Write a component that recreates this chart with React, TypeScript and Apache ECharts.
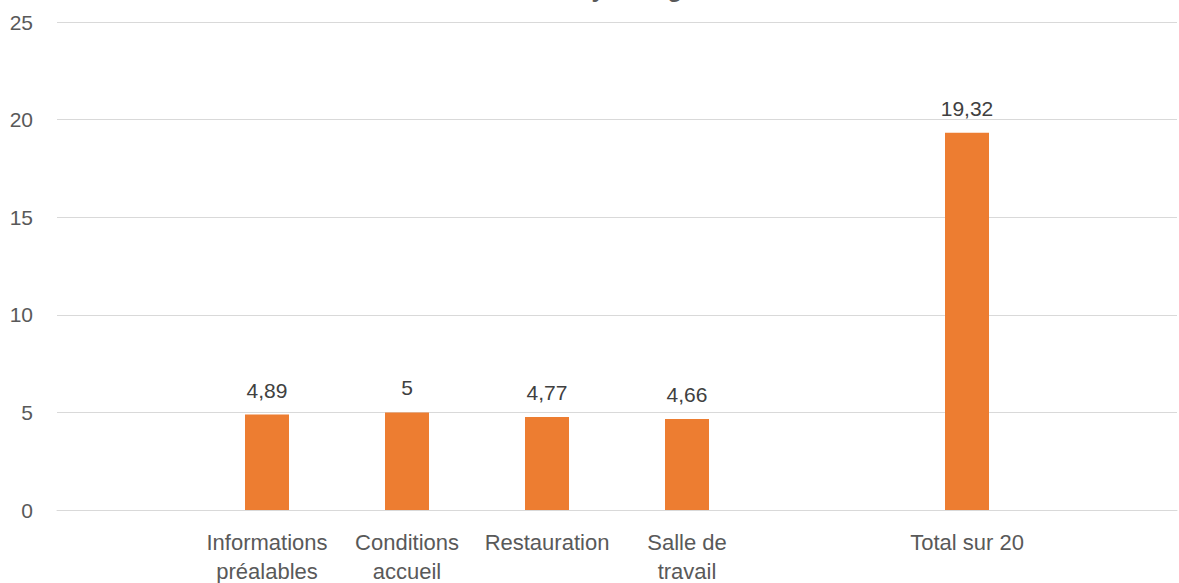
import React, { useEffect, useRef } from "react";
import * as echarts from "echarts";

const categories: string[] = [
  "",
  "Informations\npréalables",
  "Conditions\naccueil",
  "Restauration",
  "Salle de\ntravail",
  "",
  "Total sur 20",
  "",
];
const values: (number | null)[] = [null, 4.89, 5, 4.77, 4.66, null, 19.32, null];
const yMin = 0;
const yMax = 25;
const yInterval = 5;
const titleText = "Évaluation moyenne globale";

const FONT = "'Liberation Sans', Arial, sans-serif";

export default function App() {
  const ref = useRef<HTMLDivElement>(null);
  useEffect(() => {
    if (!ref.current) return;
    const chart = echarts.init(ref.current, undefined, { renderer: "svg" });
    chart.setOption({
      animation: false,
      backgroundColor: "#ffffff",
      textStyle: { fontFamily: FONT },
      title: {
        text: titleText,
        left: "center",
        top: -29,
        padding: [5, 45, 5, 5],
        textStyle: { fontSize: 24, fontWeight: "bold", color: "#595959", fontFamily: FONT },
      },
      grid: {
        left: 57,
        right: 2,
        top: 22,
        bottom: 73,
        containLabel: false,
        outerBoundsMode: "none",
      },
      xAxis: {
        type: "category",
        data: categories,
        axisLine: { show: true, lineStyle: { color: "#D9D9D9", width: 1 } },
        axisTick: { show: false },
        axisLabel: {
          interval: 0,
          color: "#595959",
          fontSize: 22,
          lineHeight: 29,
          margin: 18,
          fontFamily: FONT,
        },
      },
      yAxis: {
        type: "value",
        min: yMin,
        max: yMax,
        interval: yInterval,
        axisLine: { show: false },
        axisTick: { show: false },
        splitLine: { lineStyle: { color: "#D9D9D9", width: 1 } },
        axisLabel: { color: "#595959", fontSize: 21, margin: 24, fontFamily: FONT },
      },
      series: [
        {
          type: "bar",
          data: values,
          barWidth: 44,
          itemStyle: { color: "#ED7D31" },
          label: {
            show: true,
            position: "top",
            distance: 14,
            color: "#404040",
            fontSize: 21,
            fontFamily: FONT,
            formatter: (p: any) => String(p.value).replace(".", ","),
          },
        },
      ],
    });
    return () => chart.dispose();
  }, []);
  return (
    <div
      ref={ref}
      style={{ position: "fixed", left: 0, top: 0, width: 1179, height: 583 }}
    />
  );
}
